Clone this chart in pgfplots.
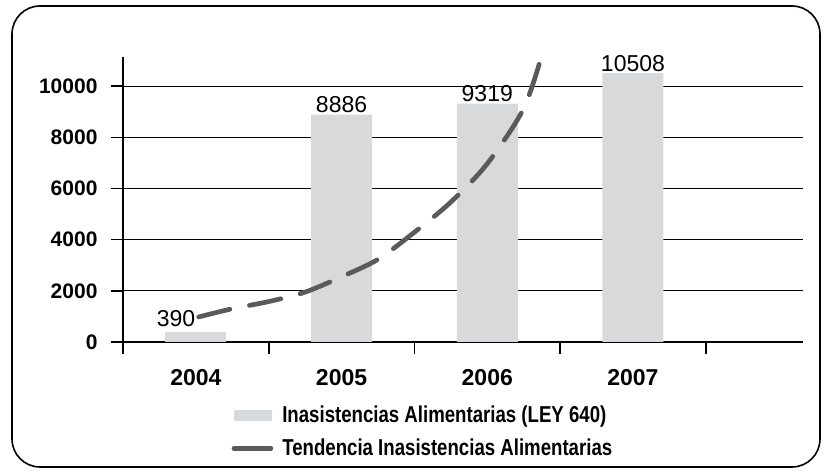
\documentclass[border=0pt]{standalone}
\usepackage{fontspec}
\setmainfont{Liberation Sans}
\newfontfamily\condfont{Liberation Sans}[FakeStretch=0.81]
\usepackage{pgfplots}
\pgfplotsset{compat=1.18}
\definecolor{barcol}{HTML}{D8D9DB}
\definecolor{trendcol}{HTML}{5A5A5A}
\pgfplotsset{/pgf/number format/assume math mode=true, /pgf/number format/1000 sep={}}
\begin{document}
\begin{tikzpicture}
\useasboundingbox (-123pt,-131pt) rectangle (702pt,342pt);
\draw[line width=1.6pt, rounded corners=28pt] (-111pt,-125pt) rectangle (697pt,336pt);
\begin{axis}[
  at={(0pt,0pt)}, anchor=south west,
  scale only axis, width=680pt, height=285pt,
  xmin=-0.5, xmax=4.167, ymin=0, ymax=11140,
  clip=false,
  axis x line*=bottom, axis y line*=left,
  axis line style={black, line width=2.2pt},
  ytick={0,2000,4000,6000,8000,10000},
  xtick={0,1,2,3},
  xticklabels={2004,2005,2006,2007},
  minor xtick={-0.5,0.5,1.5,2.5,3.5},
  tick align=outside,
  major tick length=12pt, minor tick length=12pt,
  tick style={black, line width=1.6pt},
  xtick style={draw=none},
  minor x tick style={draw=black, line width=1.6pt},
  ymajorgrids,
  grid style={black, line width=1.2pt},
  yticklabel style={font=\bfseries\fontsize{21}{25}\selectfont, xshift=-10pt},
  xticklabel style={font=\bfseries\fontsize{23}{27}\selectfont, yshift=-12pt},
  scaled y ticks=false,
  legend style={at={(0.155,-0.21)}, anchor=north west, draw=none, fill=none,
    font=\condfont\bfseries\fontsize{23}{27}\selectfont, row sep=11pt},
  legend cell align=left,
  every node near coord/.append style={font=\fontsize{23}{27}\selectfont, inner sep=1.5pt, black},
]
\addplot[ybar, bar width=61pt, bar shift=0pt, fill=barcol, draw=none,
  nodes near coords, every node near coord/.append style={anchor=south east, yshift=4pt, xshift=1pt},
  legend image code/.code={\fill[barcol] (0pt,-5.5pt) rectangle (38pt,5.5pt); \path (0pt,0pt) -- (44pt,0pt);}]
  coordinates {(0,390)};
\addlegendentry{Inasistencias Alimentarias (LEY 640)}
\addplot[ybar, bar width=61pt, bar shift=0pt, fill=barcol, draw=none, forget plot,
  nodes near coords]
  coordinates {(1,8886) (2,9319) (3,10508)};
\addplot[trendcol, line width=4.7pt, line cap=round, dash pattern=on 32pt off 20pt, smooth,
  legend image code/.code={\draw[trendcol, line width=4.5pt, line cap=round, dash pattern=on 12.5pt off 9.5pt] (2.5pt,0pt) -- (37pt,0pt); \path (0pt,0pt) -- (44pt,0pt);}]
  coordinates {(0.02,980) (0.25,1300) (0.5,1580) (0.75,1950) (1.0,2550) (1.25,3230) (1.5,4290) (1.75,5470) (2.0,6970) (2.25,9130) (2.385,11420)};
\addlegendentry{Tendencia Inasistencias Alimentarias}
\end{axis}
\end{tikzpicture}
\end{document}
